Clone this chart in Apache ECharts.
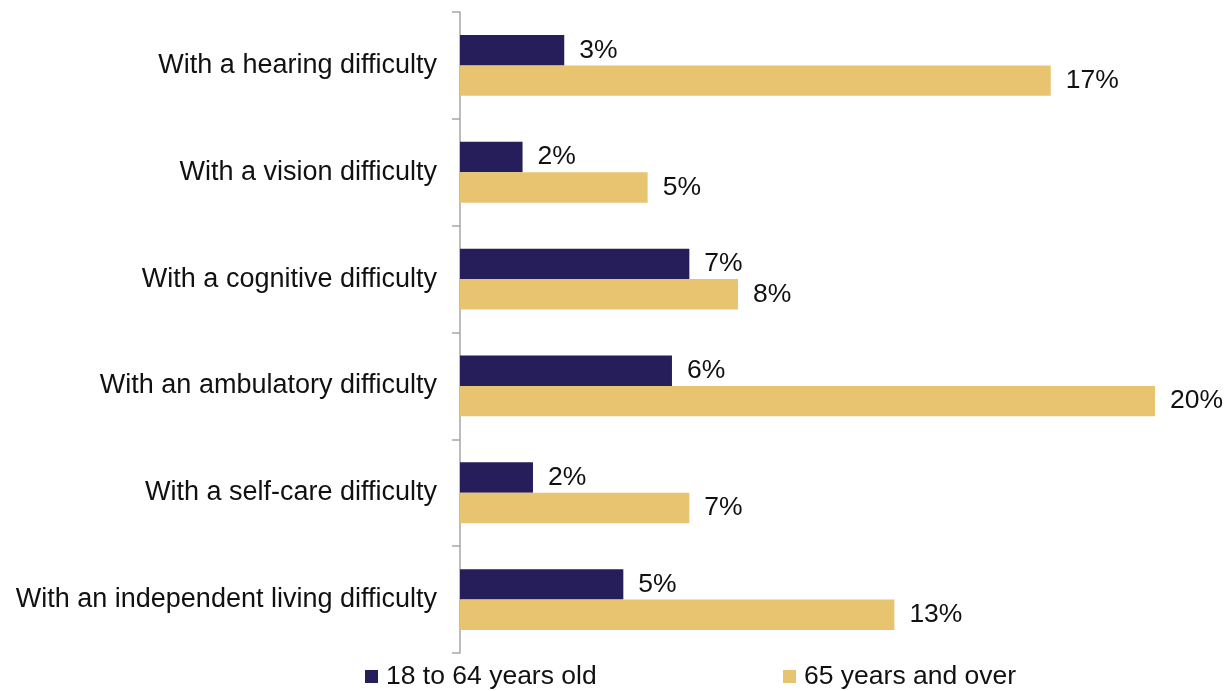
<!DOCTYPE html>
<html>
<head>
<meta charset="utf-8">
<script src="https://cdn.jsdelivr.net/npm/echarts@6/dist/echarts.min.js"></script>
<style>
  html, body { margin: 0; padding: 0; background: #fff; }
  #chart { width: 1232px; height: 691px; }
</style>
</head>
<body>
<div id="chart"></div>
<script>
// Share of population with each type of disability, by age group (percent)
const categories = [
  'With a hearing difficulty',
  'With a vision difficulty',
  'With a cognitive difficulty',
  'With an ambulatory difficulty',
  'With a self-care difficulty',
  'With an independent living difficulty'
];
const seriesNames = ['18 to 64 years old', '65 years and over'];
const ages18to64 = [3.0, 1.8, 6.6, 6.1, 2.1, 4.7];
const ages65plus = [17.0, 5.4, 8.0, 20.0, 6.6, 12.5];

const FONT = '"Liberation Sans", Arial, Helvetica, sans-serif';
const NAVY = '#251e5a';
const GOLD = '#e8c471';

const labelStyle = {
  show: true,
  position: 'right',
  distance: 15,
  color: '#111',
  fontSize: 26.5,
  fontFamily: FONT,
  formatter: p => Math.round(p.value) + '%'
};

function legendAt(name, left) {
  return {
    data: [name],
    left: left, top: 663,
    padding: 0,
    itemWidth: 13, itemHeight: 13,
    icon: 'rect',
    textStyle: { fontSize: 26.5, fontFamily: FONT, color: '#111', padding: [0, 0, 0, 3] }
  };
}

const chart = echarts.init(document.getElementById('chart'), null, { renderer: 'canvas' });
chart.setOption({
  animation: false,
  backgroundColor: '#ffffff',
  grid: { left: 460, right: 77, top: 12, bottom: 38, containLabel: false },
  legend: [legendAt(seriesNames[0], 365), legendAt(seriesNames[1], 783)],
  xAxis: {
    type: 'value',
    min: 0, max: 20,
    show: false
  },
  yAxis: {
    type: 'category',
    data: categories,
    inverse: true,
    axisLine: { show: true, lineStyle: { color: '#a6a6a6', width: 1.5 } },
    axisTick: { show: true, length: 8, lineStyle: { color: '#a6a6a6', width: 1.5 } },
    axisLabel: { fontSize: 27, fontFamily: FONT, color: '#111', margin: 23 },
    splitLine: { show: false }
  },
  series: [
    {
      name: seriesNames[0],
      type: 'bar',
      data: ages18to64,
      itemStyle: { color: NAVY },
      barGap: '0%',
      barCategoryGap: '43%',
      label: labelStyle
    },
    {
      name: seriesNames[1],
      type: 'bar',
      data: ages65plus,
      itemStyle: { color: GOLD },
      barGap: '0%',
      barCategoryGap: '43%',
      label: labelStyle
    }
  ]
});
</script>
</body>
</html>
